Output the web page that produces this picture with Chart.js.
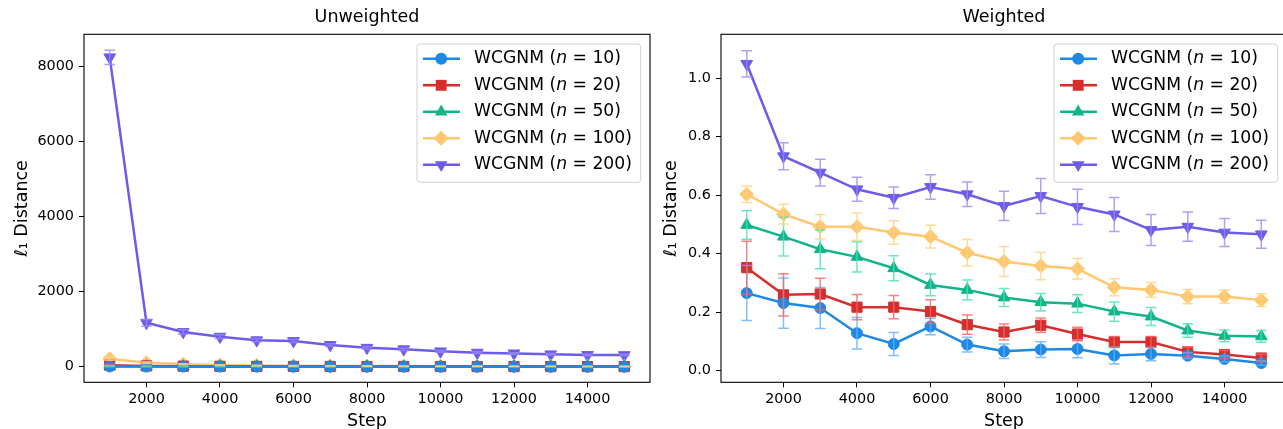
<!DOCTYPE html>
<html>
<head>
<meta charset="utf-8">
<script src="https://cdn.jsdelivr.net/npm/chart.js@4.4.1/dist/chart.umd.min.js"></script>
<style>
  html, body { margin: 0; padding: 0; background: #fff; overflow: hidden; width: 1283px; height: 429px; }
  #left { position: absolute; left: 0; top: 0; }
  #right { position: absolute; left: 660px; top: 0; }
</style>
</head>
<body>
<canvas id="left" width="660" height="429"></canvas>
<canvas id="right" width="640" height="429"></canvas>
<script>
// steps on the x axis
const steps = [1000, 2000, 3000, 4000, 5000, 6000, 7000, 8000, 9000, 10000, 11000, 12000, 13000, 14000, 15000];
const xTicks = [2000, 4000, 6000, 8000, 10000, 12000, 14000];
const nValues = ['10', '20', '50', '100', '200'];

// unweighted (left panel)
const u10 = [6, 4, 3, 2.5, 2, 2, 1.8, 1.5, 1.5, 1.4, 1.2, 1.2, 1.1, 1, 1];
const u20 = [40, 20, 14, 10, 8, 7, 6, 5, 5, 4, 4, 3.5, 3, 3, 3];
const u50 = [15, 10, 8, 6, 5, 5, 4, 4, 3.5, 3, 3, 3, 2.5, 2.5, 2.5];
const u100 = [210, 105, 70, 45, 32, 26, 22, 19, 17, 15, 13, 12, 11, 10, 9];
const u200 = [8250, 1170, 925, 800, 705, 685, 580, 505, 465, 410, 375, 355, 330, 312, 310];
const u10err = [3, 2, 2, 1, 1, 1, 1, 1, 1, 1, 1, 1, 1, 1, 1];
const u20err = [20, 8, 5, 4, 3, 3, 2, 2, 2, 2, 2, 1, 1, 1, 1];
const u50err = [10, 5, 4, 3, 2, 2, 2, 2, 2, 1, 1, 1, 1, 1, 1];
const u100err = [40, 20, 12, 8, 6, 5, 4, 4, 3, 3, 3, 2, 2, 2, 2];
const u200err = [190, 90, 60, 50, 40, 40, 35, 30, 30, 25, 25, 20, 20, 20, 20];
const uYTicks = [0, 2000, 4000, 6000, 8000];

// weighted (right panel)
const w10 = [0.265, 0.231, 0.214, 0.128, 0.091, 0.151, 0.089, 0.066, 0.072, 0.074, 0.052, 0.057, 0.051, 0.040, 0.026];
const w20 = [0.352, 0.259, 0.262, 0.217, 0.217, 0.202, 0.157, 0.132, 0.155, 0.125, 0.098, 0.098, 0.064, 0.055, 0.043];
const w50 = [0.498, 0.458, 0.415, 0.389, 0.350, 0.293, 0.276, 0.250, 0.234, 0.229, 0.202, 0.185, 0.137, 0.119, 0.117];
const w100 = [0.603, 0.535, 0.492, 0.492, 0.472, 0.458, 0.403, 0.373, 0.358, 0.348, 0.285, 0.276, 0.253, 0.253, 0.241];
const w200 = [1.049, 0.733, 0.677, 0.620, 0.591, 0.628, 0.603, 0.563, 0.597, 0.560, 0.534, 0.481, 0.492, 0.472, 0.466];
const w10err = [0.094, 0.086, 0.070, 0.054, 0.039, 0.028, 0.025, 0.025, 0.027, 0.030, 0.029, 0.023, 0.010, 0.010, 0.008];
const w20err = [0.090, 0.072, 0.054, 0.043, 0.040, 0.040, 0.033, 0.027, 0.025, 0.023, 0.019, 0.019, 0.016, 0.014, 0.013];
const w50err = [0.049, 0.066, 0.067, 0.052, 0.043, 0.037, 0.034, 0.031, 0.030, 0.030, 0.033, 0.031, 0.023, 0.020, 0.020];
const w100err = [0.028, 0.034, 0.042, 0.047, 0.040, 0.039, 0.045, 0.051, 0.047, 0.035, 0.029, 0.025, 0.024, 0.023, 0.022];
const w200err = [0.045, 0.046, 0.046, 0.041, 0.037, 0.042, 0.042, 0.050, 0.060, 0.060, 0.058, 0.053, 0.050, 0.048, 0.048];
const wYTicks = [0, 0.2, 0.4, 0.6, 0.8, 1.0];

const lineColors = ['#1e88e5', '#d62d2d', '#12b48b', '#ffc870', '#6c5ce7'];
const errColors = ['rgba(95,175,250,0.8)', 'rgba(242,100,100,0.8)', 'rgba(70,225,175,0.8)', 'rgba(255,212,135,0.85)', 'rgba(150,138,246,0.8)'];
const markers = ['circle', 'rect', 'triangle', 'rectRot', 'triangle'];
const markerRot = [0, 0, 0, 0, 180];
const markerSize = [5.5, 7.2, 6.8, 7, 6.8];

const FONT = '"DejaVu Sans", sans-serif';

// error bars drawn on top of the lines, like matplotlib
const errorBars = {
  id: 'errorBars',
  afterDatasetsDraw(chart) {
    const ctx = chart.ctx, xs = chart.scales.x, ys = chart.scales.y;
    const area = chart.chartArea;
    ctx.save();
    ctx.beginPath();
    ctx.rect(area.left, area.top, area.right - area.left, area.bottom - area.top);
    ctx.clip();
    chart.data.datasets.forEach((ds, i) => {
      ctx.strokeStyle = errColors[i];
      ctx.lineWidth = 1.5;
      ds.data.forEach((p, j) => {
        const e = ds.errors[j];
        const x = xs.getPixelForValue(p.x);
        const yt = ys.getPixelForValue(p.y + e);
        const yb = ys.getPixelForValue(p.y - e);
        ctx.beginPath();
        ctx.moveTo(x, yt); ctx.lineTo(x, yb);
        ctx.moveTo(x - 5.3, yt); ctx.lineTo(x + 5.3, yt);
        ctx.moveTo(x - 5.3, yb); ctx.lineTo(x + 5.3, yb);
        ctx.stroke();
      });
    });
    ctx.restore();
  }
};

// closed box around the plot area
const frame = {
  id: 'frame',
  afterDraw(chart) {
    const a = chart.chartArea, ctx = chart.ctx;
    ctx.save();
    ctx.strokeStyle = '#000';
    ctx.lineWidth = 1.1;
    ctx.strokeRect(a.left, a.top, a.right - a.left, a.bottom - a.top);
    ctx.restore();
  }
};

function drawMarker(ctx, kind, rot, r, x, y) {
  ctx.beginPath();
  if (kind === 'circle') {
    ctx.arc(x, y, r, 0, Math.PI * 2);
  } else if (kind === 'rect') {
    const s = r * Math.SQRT1_2;
    ctx.rect(x - s, y - s, 2 * s, 2 * s);
  } else if (kind === 'rectRot') {
    ctx.moveTo(x - r, y); ctx.lineTo(x, y - r); ctx.lineTo(x + r, y); ctx.lineTo(x, y + r);
    ctx.closePath();
  } else {
    let a = rot * Math.PI / 180;
    ctx.moveTo(x + Math.sin(a) * r, y - Math.cos(a) * r);
    a += Math.PI * 2 / 3;
    ctx.lineTo(x + Math.sin(a) * r, y - Math.cos(a) * r);
    a += Math.PI * 2 / 3;
    ctx.lineTo(x + Math.sin(a) * r, y - Math.cos(a) * r);
    ctx.closePath();
  }
  ctx.fill();
}

// legend box inside the plot, upper right
const boxLegend = {
  id: 'boxLegend',
  afterDraw(chart) {
    const a = chart.chartArea, ctx = chart.ctx;
    const w = 223.7, h = 138.3;
    const x0 = a.right - 9.3 - w, y0 = a.top + 9.7;
    ctx.save();
    ctx.beginPath();
    ctx.roundRect(x0, y0, w, h, 3);
    ctx.fillStyle = 'rgba(255,255,255,0.8)';
    ctx.fill();
    ctx.strokeStyle = '#d0d0d0';
    ctx.lineWidth = 1;
    ctx.stroke();
    nValues.forEach((n, i) => {
      const y = y0 + 14.8 + i * 26.5;
      ctx.strokeStyle = lineColors[i];
      ctx.fillStyle = lineColors[i];
      ctx.lineWidth = 2.5;
      ctx.beginPath();
      ctx.moveTo(x0 + 6, y); ctx.lineTo(x0 + 43, y);
      ctx.stroke();
      drawMarker(ctx, markers[i], markerRot[i], markerSize[i] + 0.5, x0 + 24.2, y);
      ctx.fillStyle = '#000';
      ctx.textBaseline = 'middle';
      let tx = x0 + 57;
      ctx.font = '17.2px ' + FONT;
      ctx.fillText('WCGNM (', tx, y);
      tx += ctx.measureText('WCGNM (').width;
      ctx.font = 'italic 17.2px ' + FONT;
      ctx.fillText('n', tx, y);
      tx += ctx.measureText('n').width;
      ctx.font = '17.2px ' + FONT;
      ctx.fillText(' = ' + n + ')', tx, y);
    });
    ctx.restore();
  }
};

function makeDatasets(vals, errs) {
  return vals.map((v, i) => ({
    label: 'WCGNM (n = ' + nValues[i] + ')',
    data: steps.map((s, j) => ({ x: s, y: v[j] })),
    errors: errs[i],
    borderColor: lineColors[i],
    backgroundColor: lineColors[i],
    pointBackgroundColor: lineColors[i],
    pointBorderColor: lineColors[i],
    pointBorderWidth: 1,
    pointStyle: markers[i],
    pointRotation: markerRot[i],
    pointRadius: markerSize[i],
    borderWidth: 2.5,
    tension: 0,
    clip: false
  }));
}

function makeChart(id, title, vals, errs, yMin, yMax, yTicks, yFmt, yWidth, yTitlePad, padRight) {
  return new Chart(document.getElementById(id), {
    type: 'line',
    data: { datasets: makeDatasets(vals, errs) },
    options: {
      responsive: false,
      animation: false,
      devicePixelRatio: 1,
      layout: { padding: { left: 0, right: padRight, top: 0, bottom: 0 } },
      plugins: {
        legend: { display: false },
        tooltip: { enabled: false },
        title: {
          display: true,
          text: title,
          fullSize: false,
          color: '#000',
          font: { family: FONT, size: 17.5, weight: 'normal' },
          padding: { top: 7, bottom: 6.3 }
        }
      },
      scales: {
        x: {
          type: 'linear',
          min: 300,
          max: 15700,
          afterBuildTicks: s => { s.ticks = xTicks.map(v => ({ value: v })); },
          afterFit: s => { s.height = 46.7; },
          grid: { display: true, drawOnChartArea: false, drawTicks: true, tickLength: 5, color: '#000', lineWidth: 1 },
          border: { display: false },
          ticks: {
            color: '#000', padding: 3, maxRotation: 0, autoSkip: false,
            font: { family: FONT, size: 14.4 },
            callback: v => String(v)
          },
          title: {
            display: true, text: 'Step', color: '#000',
            font: { family: FONT, size: 17.5 },
            padding: { top: 0, bottom: -3 }
          }
        },
        y: {
          type: 'linear',
          min: yMin,
          max: yMax,
          afterBuildTicks: s => { s.ticks = yTicks.map(v => ({ value: v })); },
          afterFit: s => { s.width = yWidth; },
          grid: { display: true, drawOnChartArea: false, drawTicks: true, tickLength: 5, color: '#000', lineWidth: 1 },
          border: { display: false },
          ticks: {
            color: '#000', padding: 5, autoSkip: false,
            font: { family: FONT, size: 14.4 },
            callback: yFmt
          },
          title: {
            display: true, text: 'ℓ₁ Distance', color: '#000',
            font: { family: FONT, size: 17.5 },
            padding: { top: yTitlePad, bottom: 0 }
          }
        }
      }
    },
    plugins: [errorBars, frame, boxLegend]
  });
}

makeChart('left', 'Unweighted',
  [u10, u20, u50, u100, u200], [u10err, u20err, u50err, u100err, u200err],
  -416, 8864, uYTicks, v => String(v), 84, 11.5, 10);

makeChart('right', 'Weighted',
  [w10, w20, w50, w100, w200], [w10err, w20err, w50err, w100err, w200err],
  -0.04, 1.15, wYTicks, v => v.toFixed(1), 61, 0.5, 13);
</script>
</body>
</html>
